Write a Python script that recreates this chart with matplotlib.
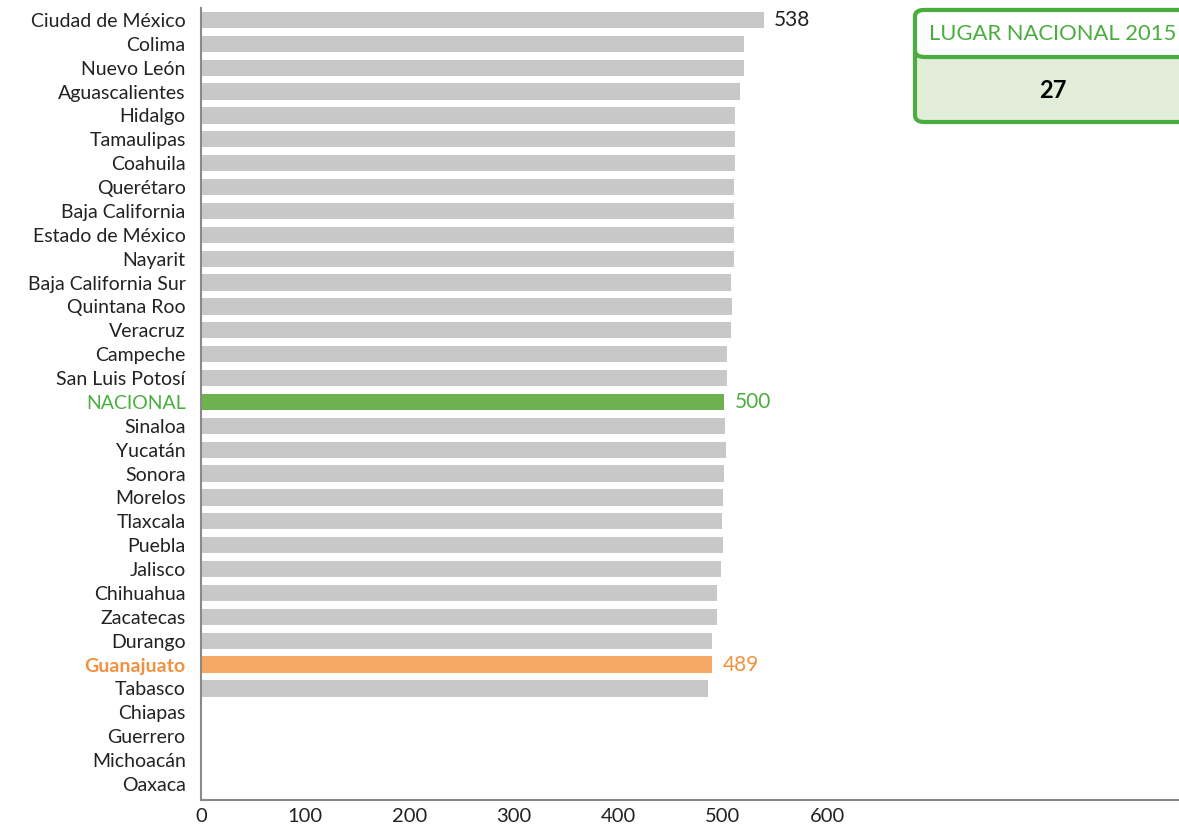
import matplotlib.pyplot as plt
from matplotlib.patches import FancyBboxPatch

plt.rcParams['font.family'] = ['Lato', 'DejaVu Sans']

# data
estados = ['Ciudad de México', 'Colima', 'Nuevo León', 'Aguascalientes', 'Hidalgo',
           'Tamaulipas', 'Coahuila', 'Querétaro', 'Baja California', 'Estado de México',
           'Nayarit', 'Baja California Sur', 'Quintana Roo', 'Veracruz', 'Campeche',
           'San Luis Potosí', 'NACIONAL', 'Sinaloa', 'Yucatán', 'Sonora', 'Morelos',
           'Tlaxcala', 'Puebla', 'Jalisco', 'Chihuahua', 'Zacatecas', 'Durango',
           'Guanajuato', 'Tabasco', 'Chiapas', 'Guerrero', 'Michoacán', 'Oaxaca']
valores = [538, 519, 519, 515, 511, 511, 511, 510, 510, 510,
           510, 507, 508, 507, 503, 503, 500, 501, 502, 500,
           499, 498, 499, 497, 493, 493, 489, 489, 485, None, None, None, None]
etiquetas = {'Ciudad de México': '538', 'NACIONAL': '500', 'Guanajuato': '489'}
lugar_nacional = '27'

gris = '#c8c8c8'
verde = '#6db24f'
verde_txt = '#4aae3e'
naranja = '#f6a865'
naranja_txt = '#f2913f'

fig = plt.figure(figsize=(11.79, 8.27), dpi=100)
ax = fig.add_axes([201 / 1179, 27 / 827, 978 / 1179, 792 / 827])

for i, (e, v) in enumerate(zip(estados, valores)):
    if v is None:
        continue
    c = gris
    tc = '#222222'
    if e == 'NACIONAL':
        c, tc = verde, verde_txt
    elif e == 'Guanajuato':
        c, tc = naranja, naranja_txt
    ax.barh(i, v, height=0.68, color=c, edgecolor='none', left=1)
    if e in etiquetas:
        ax.text(v + 11, i, etiquetas[e], va='center', ha='left', fontsize=15, color=tc)

ax.set_ylim(32.67, -0.5)
ax.set_xlim(0, 937)
ax.set_yticks(range(len(estados)))
ax.set_yticklabels(estados, fontsize=14)
for lbl in ax.get_yticklabels():
    if lbl.get_text() == 'NACIONAL':
        lbl.set_color(verde_txt)
    elif lbl.get_text() == 'Guanajuato':
        lbl.set_color(naranja_txt)
        lbl.set_fontweight('bold')
    else:
        lbl.set_color('#222222')
ax.set_xticks([0, 100, 200, 300, 400, 500, 600])
ax.tick_params(axis='x', length=0, labelsize=14.5, pad=6, colors='#222222')
ax.tick_params(axis='y', length=0, pad=11)
for s in ['top', 'right']:
    ax.spines[s].set_visible(False)
for s in ['left', 'bottom']:
    ax.spines[s].set_color('#8a8a8a')
    ax.spines[s].set_linewidth(1.5)

# caja lugar nacional
W, H = 1179, 827
x0, y0, x1, y1 = 915, 10, 1200, 122
body = FancyBboxPatch((x0 / W, 1 - y1 / H), (x1 - x0) / W, (y1 - y0) / H,
                      boxstyle='round,pad=0,rounding_size=0.008', transform=fig.transFigure,
                      facecolor='#e2eed9', edgecolor=verde_txt, linewidth=3)
fig.patches.append(body)
head = FancyBboxPatch((x0 / W, 1 - 57 / H), (x1 - x0) / W, (57 - y0) / H,
                      boxstyle='round,pad=0,rounding_size=0.008', transform=fig.transFigure,
                      facecolor='white', edgecolor=verde_txt, linewidth=3)
fig.patches.append(head)
fig.text(1053 / W, 1 - 34 / H, 'LUGAR NACIONAL 2015', ha='center', va='center',
         fontsize=15.8, color=verde_txt)
fig.text(1053 / W, 1 - 90 / H, lugar_nacional, ha='center', va='center',
         fontsize=17, fontweight='bold', color='black')

fig.savefig('out.png', dpi=100)
